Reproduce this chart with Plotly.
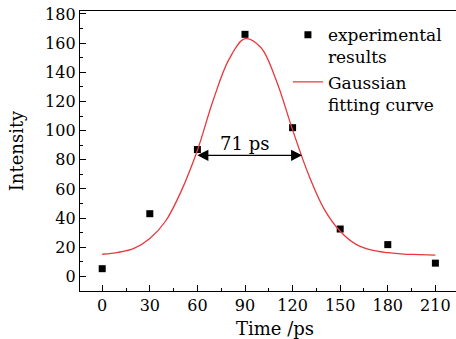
import plotly.graph_objects as go

# experimental data
time_ps = [0, 30, 60, 90, 120, 150, 180, 210]
intensity = [5.3, 43, 87, 166, 102, 32.5, 21.8, 9.1]

# Gaussian fitting curve values
fit_t = [0, 10, 20, 30, 40, 50, 60, 70, 80, 90, 100, 110, 120, 130, 140, 150, 160, 170, 180, 190, 200, 210]
fit_y = [15.2, 16.5, 19.2, 26, 38, 59, 86.5, 121, 149, 163, 157, 133.5, 100.5, 70, 46, 31, 22, 18, 16.3, 15.3, 15, 14.6]

x_ticks = [0, 30, 60, 90, 120, 150, 180, 210]
y_ticks = [0, 20, 40, 60, 80, 100, 120, 140, 160, 180]

# FWHM arrow
fwhm_left, fwhm_right, fwhm_level = 59, 126, 83
fwhm_label = "71 ps"

FONT = "DejaVu Serif"

fig = go.Figure()
fig.add_trace(go.Scatter(
    x=time_ps, y=intensity, mode="markers",
    marker=dict(symbol="square", size=7, color="black"),
    name="experimental<br>results"))
fig.add_trace(go.Scatter(
    x=fit_t, y=fit_y, mode="lines", line=dict(color="#e8383d", width=1.3, shape="spline"),
    name="Gaussian<br>fitting curve"))

fig.add_annotation(x=fwhm_right, y=fwhm_level, ax=fwhm_left, ay=fwhm_level,
                   xref="x", yref="y", axref="x", ayref="y", text="",
                   showarrow=True, arrowside="end+start", arrowhead=2, arrowsize=1.7,
                   arrowwidth=1.3, arrowcolor="black")
fig.add_annotation(x=(fwhm_left + fwhm_right) / 2 - 3, y=fwhm_level + 8, xref="x", yref="y",
                   text=fwhm_label, showarrow=False, font=dict(family=FONT, size=18, color="black"))

# x-axis title, placed where the reference puts it (slightly right of the plot centre)
fig.add_annotation(x=109, y=0, xref="x", yref="paper", yanchor="middle", yshift=-37,
                   text="Time /ps", showarrow=False, font=dict(family=FONT, size=18, color="black"))

fig.update_layout(
    width=456, height=339,
    margin=dict(l=80, r=0, t=11, b=48, autoexpand=False),
    paper_bgcolor="white", plot_bgcolor="white",
    font=dict(family=FONT, size=16, color="black"),
    legend=dict(x=0.553, y=0.978, xanchor="left", yanchor="top", bgcolor="rgba(0,0,0,0)",
                valign="top", font=dict(family=FONT, size=17), tracegroupgap=0),
    xaxis=dict(range=[-14, 223], tickvals=x_ticks, showline=True, linecolor="black", linewidth=1.3,
               mirror=True, ticks="inside", ticklen=6, tickcolor="black", showgrid=False, zeroline=False,
               automargin=False, ticklabeloverflow="allow",
               minor=dict(dtick=15, tick0=0, ticks="inside", ticklen=3, tickcolor="black")),
    yaxis=dict(range=[-10, 182], tickvals=y_ticks, showline=True, linecolor="black", linewidth=1.3,
               ticks="inside", ticklen=6, tickcolor="black", showgrid=False, zeroline=False,
               automargin=False, ticklabeloverflow="allow",
               minor=dict(dtick=10, tick0=0, ticks="inside", ticklen=3, tickcolor="black"),
               title=dict(text="Intensity", standoff=16, font=dict(size=18))),
)

fig.write_html("out.html", config={"displayModeBar": False},
               post_script="document.body.style.margin='0px';")
